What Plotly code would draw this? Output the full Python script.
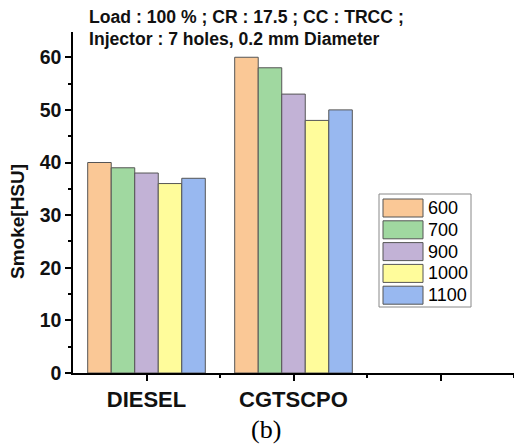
import plotly.graph_objects as go

# Fuel blends on the x axis and injection pressures as the series
categories = ["DIESEL", "CGTSCPO"]
series_names = ["600", "700", "900", "1000", "1100"]
smoke_600 = [40, 60]
smoke_700 = [39, 58]
smoke_900 = [38, 53]
smoke_1000 = [36, 48]
smoke_1100 = [37, 50]
series_values = [smoke_600, smoke_700, smoke_900, smoke_1000, smoke_1100]
colors = ["#FAC896", "#A0D8A0", "#C2B2D6", "#FFFC9B", "#98B8F0"]

y_ticks = [0, 10, 20, 30, 40, 50, 60]
title_lines = ["Load : 100 % ; CR : 17.5 ; CC : TRCC ;",
               "Injector : 7 holes, 0.2 mm Diameter"]

FONT = "Liberation Sans, Arial, sans-serif"
x_pos = list(range(1, len(categories) + 1))

fig = go.Figure()
for name, vals, col in zip(series_names, series_values, colors):
    fig.add_trace(go.Bar(
        x=x_pos, y=vals, name=name,
        marker=dict(color=col, line=dict(color="#555555", width=1)),
        showlegend=False,
    ))

# plot area geometry (pixels) used to place the boxed legend
L, R, T, B = 73, 0, 32, 75
W, H = 514 - L - R, 448 - T - B


def px_x(p):
    return (p - L) / W


def px_y(p):
    return (448 - B - p) / H


shapes = [dict(type="rect", xref="paper", yref="paper",
               x0=px_x(379), x1=px_x(471), y0=px_y(307), y1=px_y(194),
               line=dict(color="#888888", width=1), fillcolor="white")]
annotations = []
for i, (name, col) in enumerate(zip(series_names, colors)):
    cy = 208 + i * 21.8
    shapes.append(dict(type="rect", xref="paper", yref="paper",
                       x0=px_x(383), x1=px_x(423), y0=px_y(cy + 9), y1=px_y(cy - 9),
                       line=dict(color="#555555", width=1), fillcolor=col))
    annotations.append(dict(xref="paper", yref="paper", x=px_x(426), y=px_y(cy),
                            xanchor="left", yanchor="middle", text=name, showarrow=False,
                            font=dict(family=FONT, size=18, color="black")))

for i, line in enumerate(title_lines):
    annotations.append(dict(xref="paper", yref="paper", x=px_x(87), y=px_y(17 + i * 22),
                            xanchor="left", yanchor="middle", text=line, showarrow=False,
                            font=dict(family=FONT, size=17.6, color="#111111", weight="bold")))

annotations.append(dict(xref="paper", yref="paper", x=px_x(18), y=px_y(222),
                        xanchor="center", yanchor="middle", text="Smoke[HSU]", textangle=-90,
                        showarrow=False,
                        font=dict(family=FONT, size=19, color="#111111", weight="bold")))
annotations.append(dict(xref="paper", yref="paper", x=px_x(266), y=px_y(429),
                        xanchor="center", yanchor="middle", text="(b)", showarrow=False,
                        font=dict(family="Liberation Serif, serif", size=26, color="black")))

fig.update_layout(
    width=514, height=448,
    margin=dict(l=L, r=R, t=T, b=B),
    paper_bgcolor="white", plot_bgcolor="white",
    barmode="group", bargap=0.2, bargroupgap=0,
    shapes=shapes, annotations=annotations,
    showlegend=False,
)
fig.update_xaxes(
    range=[0.5, 3.5], tickmode="array", tickvals=x_pos + [3],
    ticktext=categories + [""],
    ticks="outside", ticklen=6, tickwidth=1.5, tickcolor="black",
    showline=True, linecolor="black", linewidth=1.5, showgrid=False, zeroline=False,
    tickfont=dict(family=FONT, size=22, color="#111111", weight="bold"),
    minor=dict(tickvals=[1.5, 2.5, 3.5], ticks="outside", ticklen=3, tickcolor="black", tickwidth=1.5),
)
fig.update_yaxes(
    range=[0, 64.8], tickmode="array", tickvals=y_ticks,
    ticks="outside", ticklen=6, tickwidth=1.5, tickcolor="black",
    showline=True, linecolor="black", linewidth=1.5, showgrid=False, zeroline=False,
    tickfont=dict(family=FONT, size=19.5, color="#111111", weight="bold"),
    minor=dict(tickvals=[5, 15, 25, 35, 45, 55], ticks="outside", ticklen=3, tickcolor="black", tickwidth=1.5),
)

fig.write_html("out.html")
